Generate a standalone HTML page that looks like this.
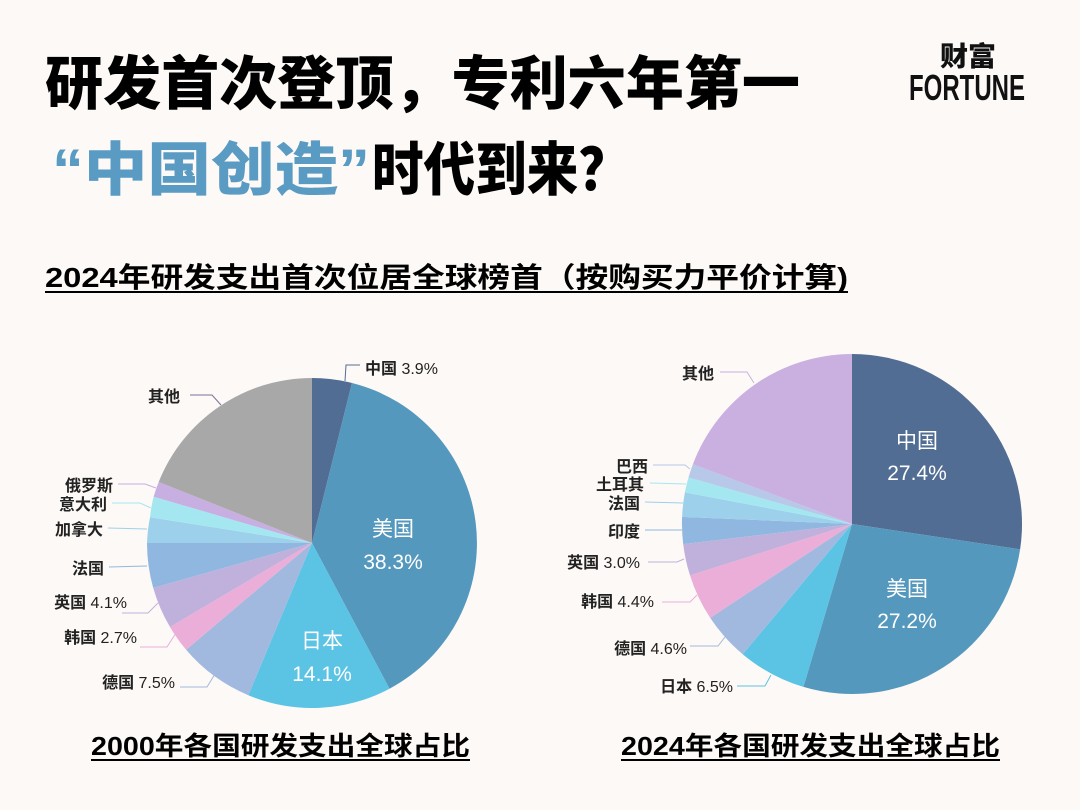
<!DOCTYPE html>
<html><head><meta charset="utf-8"><style>
html,body{margin:0;padding:0;background:#fdf9f6;}
svg{display:block}
text{font-family:"Liberation Sans","Noto Sans CJK SC",sans-serif;}
tspan.n{font-weight:400}
</style></head><body>
<svg width="1080" height="810" viewBox="0 0 1080 810" xmlns="http://www.w3.org/2000/svg">
<rect width="1080" height="810" fill="#fdf9f6"/>
<text x="45" y="104" font-size="58" font-weight="900" fill="#000" textLength="755" lengthAdjust="spacingAndGlyphs">研发首次登顶，专利六年第一</text>
<text x="52" y="190" font-size="58" font-weight="900" fill="#5a9bc4" textLength="318" lengthAdjust="spacingAndGlyphs">“中国创造”</text>
<text x="372" y="190" font-size="58" font-weight="900" fill="#000" textLength="258" lengthAdjust="spacingAndGlyphs">时代到来？</text>
<text x="940" y="66" font-size="27" font-weight="900" fill="#111" textLength="56" lengthAdjust="spacingAndGlyphs">财富</text>
<text x="909" y="100" font-size="36" font-weight="700" fill="#111" textLength="116" lengthAdjust="spacingAndGlyphs">FORTUNE</text>
<text x="45" y="287" font-size="28" font-weight="700" fill="#000" textLength="803" lengthAdjust="spacingAndGlyphs">2024年研发支出首次位居全球榜首（按购买力平价计算)</text>
<rect x="45" y="291" width="803" height="2" fill="#000"/>

<g stroke="none">
<path d="M312,543 L312,378 A165,165 0 0 1 352,383 Z" fill="#526d93"/>
<path d="M312,543 L352,383 A165,165 0 0 1 389.5,688.7 Z" fill="#5598bd"/>
<path d="M312,543 L389.5,688.7 A165,165 0 0 1 248.3,695.2 Z" fill="#5bc3e4"/>
<path d="M312,543 L248.3,695.2 A165,165 0 0 1 186.1,649.8 Z" fill="#a1b9de"/>
<path d="M312,543 L186.1,649.8 A165,165 0 0 1 170,627 Z" fill="#ebaed8"/>
<path d="M312,543 L170,627 A165,165 0 0 1 153.2,587.9 Z" fill="#c0b1dc"/>
<path d="M312,543 L153.2,587.9 A165,165 0 0 1 147,543 Z" fill="#90b7e0"/>
<path d="M312,543 L147,543 A165,165 0 0 1 150,517.2 Z" fill="#9dd0ea"/>
<path d="M312,543 L150,517.2 A165,165 0 0 1 153.6,496.7 Z" fill="#a5e7f0"/>
<path d="M312,543 L153.6,496.7 A165,165 0 0 1 158.7,482 Z" fill="#c8afe2"/>
<path d="M312,543 L158.7,482 A165,165 0 0 1 312,378 Z" fill="#a8a8a8"/>
</g>
<g fill="none" stroke-width="1">
<polyline points="345,381 346,365 360,365" stroke="#526d93"/>
<polyline points="190,395 212,395 221,405" stroke="#7a6f9a"/>
<polyline points="118,484 145,484 156,488" stroke="#c8afe2"/>
<polyline points="112,503 140,503 151,508" stroke="#a5e7f0"/>
<polyline points="108,528 147,529" stroke="#9dd0ea"/>
<polyline points="109,567 147,566" stroke="#90b7e0"/>
<polyline points="122,613 148,613 158,603" stroke="#c0b1dc"/>
<polyline points="140,647 167,647 176,633" stroke="#ebaed8"/>
<polyline points="180,687 207,687 215,674" stroke="#a1b9de"/>
</g>
<g font-size="16" font-weight="700" fill="#222">
<text x="365" y="374">中国 <tspan class="n">3.9%</tspan></text>
<text x="180" y="402" text-anchor="end">其他</text>
<text x="113" y="491" text-anchor="end">俄罗斯</text>
<text x="107" y="510" text-anchor="end">意大利</text>
<text x="103" y="535" text-anchor="end">加拿大</text>
<text x="104" y="574" text-anchor="end">法国</text>
<text x="127" y="608" text-anchor="end">英国 <tspan class="n">4.1%</tspan></text>
<text x="137" y="643" text-anchor="end">韩国 <tspan class="n">2.7%</tspan></text>
<text x="175" y="688" text-anchor="end">德国 <tspan class="n">7.5%</tspan></text>
</g>
<g font-size="21" fill="#fff" text-anchor="middle">
<text x="393" y="536">美国</text>
<text x="393" y="569">38.3%</text>
<text x="322" y="648">日本</text>
<text x="322" y="681">14.1%</text>
</g>

<g stroke="none">
<path d="M852,524 L852,354 A170,170 0 0 1 1020.1,549.4 Z" fill="#526d93"/>
<path d="M852,524 L1020.1,549.4 A170,170 0 0 1 803.4,686.9 Z" fill="#5598bd"/>
<path d="M852,524 L803.4,686.9 A170,170 0 0 1 742.7,654.2 Z" fill="#5bc3e4"/>
<path d="M852,524 L742.7,654.2 A170,170 0 0 1 710.2,617.9 Z" fill="#a1b9de"/>
<path d="M852,524 L710.2,617.9 A170,170 0 0 1 690,575.4 Z" fill="#ebaed8"/>
<path d="M852,524 L690,575.4 A170,170 0 0 1 683.2,544.1 Z" fill="#c0b1dc"/>
<path d="M852,524 L683.2,544.1 A170,170 0 0 1 682.1,516.9 Z" fill="#90b7e0"/>
<path d="M852,524 L682.1,516.9 A170,170 0 0 1 684.9,492.4 Z" fill="#9dd0ea"/>
<path d="M852,524 L684.9,492.4 A170,170 0 0 1 688.5,477.4 Z" fill="#a5e7f0"/>
<path d="M852,524 L688.5,477.4 A170,170 0 0 1 692.9,464.2 Z" fill="#b7c8e8"/>
<path d="M852,524 L692.9,464.2 A170,170 0 0 1 852,354 Z" fill="#c9b0e0"/>
</g>
<g fill="none" stroke-width="1">
<polyline points="720,372 747,372 754,383" stroke="#c9b0e0"/>
<polyline points="653,465 685,465 690,469" stroke="#b7c8e8"/>
<polyline points="650,483 686,484" stroke="#a5e7f0"/>
<polyline points="645,502 683,503" stroke="#9dd0ea"/>
<polyline points="645,530 682,530" stroke="#90b7e0"/>
<polyline points="648,562 677,562 684,559" stroke="#c0b1dc"/>
<polyline points="662,602 690,602 697,595" stroke="#ebaed8"/>
<polyline points="690,646 718,646 725,637" stroke="#a1b9de"/>
<polyline points="737,686 765,686 771,675" stroke="#5bc3e4"/>
</g>
<g font-size="16" font-weight="700" fill="#222">
<text x="714" y="379" text-anchor="end">其他</text>
<text x="648" y="472" text-anchor="end">巴西</text>
<text x="644" y="490" text-anchor="end">土耳其</text>
<text x="640" y="509" text-anchor="end">法国</text>
<text x="640" y="537" text-anchor="end">印度</text>
<text x="640" y="568" text-anchor="end">英国 <tspan class="n">3.0%</tspan></text>
<text x="654" y="607" text-anchor="end">韩国 <tspan class="n">4.4%</tspan></text>
<text x="687" y="654" text-anchor="end">德国 <tspan class="n">4.6%</tspan></text>
<text x="733" y="692" text-anchor="end">日本 <tspan class="n">6.5%</tspan></text>
</g>
<g font-size="21" fill="#fff" text-anchor="middle">
<text x="917" y="448">中国</text>
<text x="917" y="480">27.4%</text>
<text x="907" y="596">美国</text>
<text x="907" y="628">27.2%</text>
</g>

<text x="91" y="755" font-size="26" font-weight="700" fill="#000" textLength="379" lengthAdjust="spacingAndGlyphs">2000年各国研发支出全球占比</text>
<rect x="91" y="759" width="379" height="2" fill="#000"/>
<text x="621" y="755" font-size="26" font-weight="700" fill="#000" textLength="379" lengthAdjust="spacingAndGlyphs">2024年各国研发支出全球占比</text>
<rect x="621" y="759" width="379" height="2" fill="#000"/>
</svg>
</body></html>
